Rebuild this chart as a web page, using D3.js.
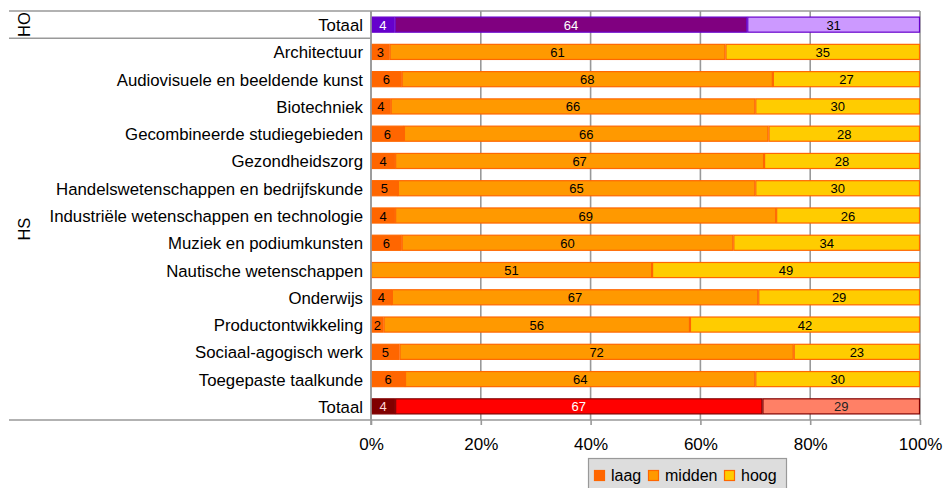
<!DOCTYPE html>
<html>
<head>
<meta charset="utf-8">
<script src="https://cdn.jsdelivr.net/npm/d3@7/dist/d3.min.js"></script>
<style>
  body { margin: 0; background: #fff; }
  text { font-family: "Liberation Sans", Arial, sans-serif; }
</style>
</head>
<body>
<div id="chart"></div>
<script>
// Categories (top to bottom) and the group they belong to.
const categories = [
  "Totaal",
  "Architectuur",
  "Audiovisuele en beeldende kunst",
  "Biotechniek",
  "Gecombineerde studiegebieden",
  "Gezondheidszorg",
  "Handelswetenschappen en bedrijfskunde",
  "Industriële wetenschappen en technologie",
  "Muziek en podiumkunsten",
  "Nautische wetenschappen",
  "Onderwijs",
  "Productontwikkeling",
  "Sociaal-agogisch werk",
  "Toegepaste taalkunde",
  "Totaal"
];
const groups = ["HO", "HS", "HS", "HS", "HS", "HS", "HS", "HS", "HS", "HS", "HS", "HS", "HS", "HS", "HS"];

// Percentages per level.
const laag   = [4.3, 3.4, 5.6, 3.6, 6.0, 4.4, 4.9, 4.4, 5.6, 0,    3.8, 2.3, 5.2, 6.2, 4.4];
const midden = [64.1, 61.1, 67.6, 66.4, 66.4, 67.2, 65.1, 69.4, 60.4, 51.2, 66.6, 55.8, 71.8, 63.8, 66.9];
const hoog   = [31.4, 35.4, 26.8, 30.0, 27.6, 28.4, 30.0, 26.2, 34.0, 48.8, 29.4, 41.9, 23.0, 30.0, 28.7];

const levels = ["laag", "midden", "hoog"];
const tickValues = [0, 20, 40, 60, 80, 100];

// Colour sets: normal HS rows, HO total and HS total.
const palette = {
  hs:    {fill: ["#ff6600", "#ff9900", "#ffcc00"], stroke: "#ff6600", text: ["#000", "#000", "#000"]},
  hoTot: {fill: ["#6600cc", "#800080", "#cc99ff"], stroke: "#6600cc", text: ["#fff", "#fff", "#000"]},
  hsTot: {fill: ["#800000", "#ff0000", "#ff8066"], stroke: "#800000", text: ["#ffd6d6", "#fff", "#222"]}
};

const W = 944, H = 488;
const plotLeft = 371, plotRight = 920, plotTop = 11, plotBottom = 420, outerLeft = 9;

const svg = d3.select("#chart").append("svg")
  .attr("width", W)
  .attr("height", H);

const x = d3.scaleLinear().domain([0, 100]).range([plotLeft, plotRight]);
const y = d3.scaleBand()
  .domain(d3.range(categories.length))
  .range([plotTop, plotBottom])
  .paddingInner(0.41)
  .paddingOuter(0.205);

const gridColor = "#999";

// Gridlines behind the bars.
svg.append("g")
  .selectAll("line")
  .data(tickValues)
  .join("line")
    .attr("x1", d => x(d))
    .attr("x2", d => x(d))
    .attr("y1", plotTop)
    .attr("y2", plotBottom)
    .attr("stroke", gridColor)
    .attr("stroke-width", 1.6);

// Frame lines: top, bottom, HO/HS separator.
const sepY = plotTop + y.step();
[[outerLeft, plotRight, plotTop], [outerLeft, plotRight, plotBottom], [outerLeft, plotLeft, sepY]].forEach(([x1, x2, yy]) => {
  svg.append("line")
    .attr("x1", x1).attr("x2", x2)
    .attr("y1", yy).attr("y2", yy)
    .attr("stroke", gridColor)
    .attr("stroke-width", 1.6);
});

// Stack the rows.
const rows = categories.map((c, i) => {
  const vals = [laag[i], midden[i], hoog[i]];
  const total = d3.sum(vals);
  let acc = 0;
  const pal = i === 0 ? palette.hoTot : (i === categories.length - 1 ? palette.hsTot : palette.hs);
  return vals.map((v, k) => {
    const s = {row: i, level: k, value: v, x0: acc / total * 100, x1: (acc + v) / total * 100, pal};
    acc += v;
    return s;
  });
});
const segments = rows.flat().filter(d => d.value > 0);

const barG = svg.append("g");
barG.selectAll("rect")
  .data(segments)
  .join("rect")
    .attr("x", d => x(d.x0) + 0.5)
    .attr("y", d => y(d.row) + 0.5)
    .attr("width", d => x(d.x1) - x(d.x0) - 1)
    .attr("height", y.bandwidth() - 1)
    .attr("fill", d => d.pal.fill[d.level])
    .attr("stroke", d => d.pal.stroke)
    .attr("stroke-width", 1.2);

barG.selectAll("text")
  .data(segments)
  .join("text")
    .attr("x", d => x((d.x0 + d.x1) / 2))
    .attr("y", d => y(d.row) + y.bandwidth() / 2 + 0.5)
    .attr("text-anchor", "middle")
    .attr("dominant-baseline", "central")
    .attr("font-size", 13)
    .attr("fill", d => d.pal.text[d.level])
    .text(d => Math.round(d.value));

// Category labels.
svg.append("g")
  .selectAll("text")
  .data(categories)
  .join("text")
    .attr("x", plotLeft - 8)
    .attr("y", (d, i) => y(i) + y.bandwidth() / 2 + 1)
    .attr("text-anchor", "end")
    .attr("dominant-baseline", "central")
    .attr("font-size", 16.8)
    .attr("fill", "#000")
    .text(d => d);

// Group labels (HO / HS), rotated.
const groupNames = Array.from(new Set(groups));
groupNames.forEach(g => {
  const idx = groups.map((v, i) => v === g ? i : -1).filter(i => i >= 0);
  const y0 = y(idx[0]) - y.step() * y.paddingInner() / 2;
  const y1 = y(idx[idx.length - 1]) + y.bandwidth() + y.step() * y.paddingInner() / 2;
  const cy = (Math.max(y0, plotTop) + Math.min(y1, plotBottom)) / 2;
  svg.append("text")
    .attr("transform", `translate(24,${cy}) rotate(-90)`)
    .attr("text-anchor", "middle")
    .attr("dominant-baseline", "central")
    .attr("font-size", 16.5)
    .text(g);
});

// Left axis line.
svg.append("line")
  .attr("x1", plotLeft).attr("x2", plotLeft)
  .attr("y1", plotTop).attr("y2", plotBottom + 5)
  .attr("stroke", gridColor)
  .attr("stroke-width", 1.6);

// Bottom axis.
const xAxis = d3.axisBottom(x)
  .tickValues(tickValues)
  .tickFormat(d => d + "%")
  .tickSizeInner(5)
  .tickSizeOuter(0)
  .tickPadding(13);

const axisG = svg.append("g")
  .attr("transform", `translate(0,${plotBottom})`)
  .call(xAxis);
axisG.select(".domain").remove();
axisG.selectAll(".tick line").attr("stroke", gridColor).attr("stroke-width", 1.6);
axisG.selectAll(".tick text")
  .attr("font-size", 17)
  .attr("font-family", "Liberation Sans, Arial, sans-serif")
  .attr("fill", "#000");

// Legend.
const legend = svg.append("g").attr("transform", "translate(588,458)");
legend.append("rect")
  .attr("x", 0.5).attr("y", 0.5)
  .attr("width", 198).attr("height", 40)
  .attr("fill", "#dddddd")
  .attr("stroke", "#999")
  .attr("stroke-width", 1.2);

const legendX = [6, 60, 136];
levels.forEach((lv, k) => {
  const g = legend.append("g").attr("transform", `translate(${legendX[k]},12)`);
  g.append("rect")
    .attr("x", 0.5).attr("y", 0.5)
    .attr("width", 10).attr("height", 10)
    .attr("fill", palette.hs.fill[k])
    .attr("stroke", palette.hs.stroke)
    .attr("stroke-width", 1.2);
  g.append("text")
    .attr("x", 17)
    .attr("y", 11)
    .attr("font-size", 16)
    .attr("fill", "#000")
    .text(lv);
});
</script>
</body>
</html>
